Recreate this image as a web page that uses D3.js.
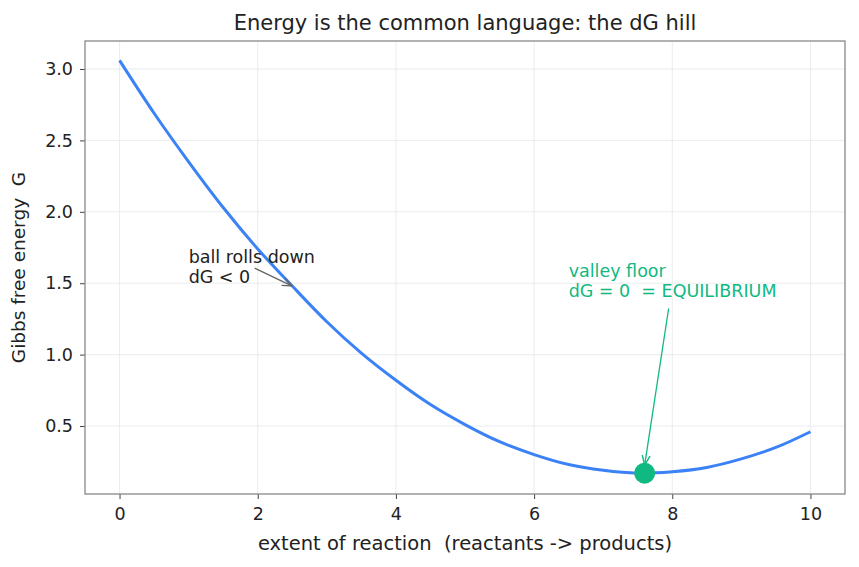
<!DOCTYPE html>
<html>
<head>
<meta charset="utf-8">
<script src="https://cdn.jsdelivr.net/npm/d3@7"></script>
<style>
  body { margin: 0; background: #fff; }
  text { font-family: "DejaVu Sans", sans-serif; white-space: pre; }
</style>
</head>
<body>
<div id="chart-area"></div>
<script>
/* data */
const extent = [0, 0.5, 1, 1.5, 2, 2.5, 3, 3.5, 4, 4.5, 5, 5.5, 6, 6.5, 7, 7.5, 8, 8.5, 9, 9.5, 10]
const energy = [3.06, 2.69, 2.35, 2.03, 1.74, 1.48, 1.23, 1.01, 0.82, 0.65, 0.51, 0.39, 0.30, 0.23, 0.19, 0.17, 0.18, 0.21, 0.27, 0.35, 0.46]
const xTicks = [0, 2, 4, 6, 8, 10]
const yTicks = [0.5, 1.0, 1.5, 2.0, 2.5, 3.0]
const equilibrium = { x: 7.6, g: 0.17 }
const rollNote = { x: 1.0, g: 1.5, tipX: 2.5, tipG: 1.48, lines: ["ball rolls down", "dG < 0"] }
const valleyNote = { x: 6.5, g: 1.4, lines: ["valley floor", "dG = 0  = EQUILIBRIUM"] }

const data = extent.map((d, i) => ({ x: d, g: energy[i] }))

/* chart area */
const MARGIN = { LEFT: 85, RIGHT: 14, TOP: 41, BOTTOM: 73 }
const WIDTH = 859 - MARGIN.LEFT - MARGIN.RIGHT
const HEIGHT = 567 - MARGIN.TOP - MARGIN.BOTTOM

const svg = d3.select("#chart-area").append("svg")
  .attr("width", 859)
  .attr("height", 567)

const defs = svg.append("defs")
function marker(id, color) {
  defs.append("marker")
    .attr("id", id)
    .attr("viewBox", "0 0 10 10")
    .attr("refX", 10).attr("refY", 5)
    .attr("markerWidth", 10).attr("markerHeight", 10)
    .attr("markerUnits", "userSpaceOnUse")
    .attr("orient", "auto")
    .append("path")
    .attr("d", "M0,1 L10,5 L0,9")
    .attr("fill", "none")
    .attr("stroke", color)
    .attr("stroke-width", 1.4)
}
marker("arr-gray", "#666")
marker("arr-green", "#10b981")

const g = svg.append("g")
  .attr("transform", `translate(${MARGIN.LEFT}, ${MARGIN.TOP})`)

// scales
const x = d3.scaleLinear().domain([-0.5, 10.5]).range([0, WIDTH])
const y = d3.scaleLinear().domain([0.024, 3.196]).range([HEIGHT, 0])

// grid
g.append("g").selectAll("line").data(xTicks).join("line")
  .attr("x1", d => x(d)).attr("x2", d => x(d))
  .attr("y1", 0).attr("y2", HEIGHT)
  .attr("stroke", "#e5e7eb").attr("stroke-width", 0.8)
g.append("g").selectAll("line").data(yTicks).join("line")
  .attr("x1", 0).attr("x2", WIDTH)
  .attr("y1", d => y(d)).attr("y2", d => y(d))
  .attr("stroke", "#e5e7eb").attr("stroke-width", 0.8)

// axes
const xAxis = g.append("g")
  .attr("transform", `translate(0, ${HEIGHT})`)
  .call(d3.axisBottom(x).tickValues(xTicks).tickFormat(d3.format("d")).tickSize(5).tickPadding(9))
const yAxis = g.append("g")
  .call(d3.axisLeft(y).tickValues(yTicks).tickFormat(d3.format(".1f")).tickSize(5).tickPadding(7))

;[xAxis, yAxis].forEach(a => {
  a.select(".domain").remove()
  a.selectAll(".tick line").attr("stroke", "#444").attr("stroke-width", 1)
  a.selectAll(".tick text").attr("fill", "#222").style("font-size", "17.5px")
})

// frame
g.append("rect")
  .attr("width", WIDTH).attr("height", HEIGHT)
  .attr("fill", "none").attr("stroke", "#888").attr("stroke-width", 1.3)

// curve
const line = d3.line()
  .x(d => x(d.x))
  .y(d => y(d.g))
  .curve(d3.curveCatmullRom)

g.append("path")
  .datum(data)
  .attr("d", line)
  .attr("fill", "none")
  .attr("stroke", "#3b82f6")
  .attr("stroke-width", 3)

// equilibrium ball
g.append("circle")
  .attr("cx", x(equilibrium.x)).attr("cy", y(equilibrium.g))
  .attr("r", 10.5)
  .attr("fill", "#10b981")

// annotation: ball rolls down
const rn = g.append("text")
  .attr("x", x(rollNote.x)).attr("y", y(rollNote.g))
  .attr("fill", "#222").style("font-size", "17.5px")
rn.selectAll("tspan").data(rollNote.lines).join("tspan")
  .attr("x", x(rollNote.x))
  .attr("dy", (d, i) => i === 0 ? -20 : 20)
  .text(d => d)
g.append("line")
  .attr("x1", x(rollNote.x) + 66).attr("y1", y(rollNote.g) - 15)
  .attr("x2", x(rollNote.tipX)).attr("y2", y(rollNote.tipG))
  .attr("stroke", "#666").attr("stroke-width", 1.3)
  .attr("marker-end", "url(#arr-gray)")

// annotation: valley floor
const vn = g.append("text")
  .attr("x", x(valleyNote.x)).attr("y", y(valleyNote.g))
  .attr("fill", "#10b981").style("font-size", "17.5px")
vn.selectAll("tspan").data(valleyNote.lines).join("tspan")
  .attr("x", x(valleyNote.x))
  .attr("dy", (d, i) => i === 0 ? -20 : 20)
  .text(d => d)
g.append("line")
  .attr("x1", x(valleyNote.x) + 100).attr("y1", y(valleyNote.g) + 11)
  .attr("x2", x(equilibrium.x)).attr("y2", y(equilibrium.g) - 8)
  .attr("stroke", "#10b981").attr("stroke-width", 1.3)
  .attr("marker-end", "url(#arr-green)")

// title and axis labels
svg.append("text")
  .attr("x", MARGIN.LEFT + WIDTH / 2).attr("y", 30)
  .attr("text-anchor", "middle")
  .attr("fill", "#222").style("font-size", "21px")
  .text("Energy is the common language: the dG hill")

svg.append("text")
  .attr("x", MARGIN.LEFT + WIDTH / 2).attr("y", 550)
  .attr("text-anchor", "middle")
  .attr("fill", "#222").style("font-size", "19.5px")
  .text("extent of reaction  (reactants -> products)")

svg.append("text")
  .attr("transform", `translate(25, ${MARGIN.TOP + HEIGHT / 2}) rotate(-90)`)
  .attr("text-anchor", "middle")
  .attr("fill", "#222").style("font-size", "18.5px")
  .text("Gibbs free energy  G")
</script>
</body>
</html>
